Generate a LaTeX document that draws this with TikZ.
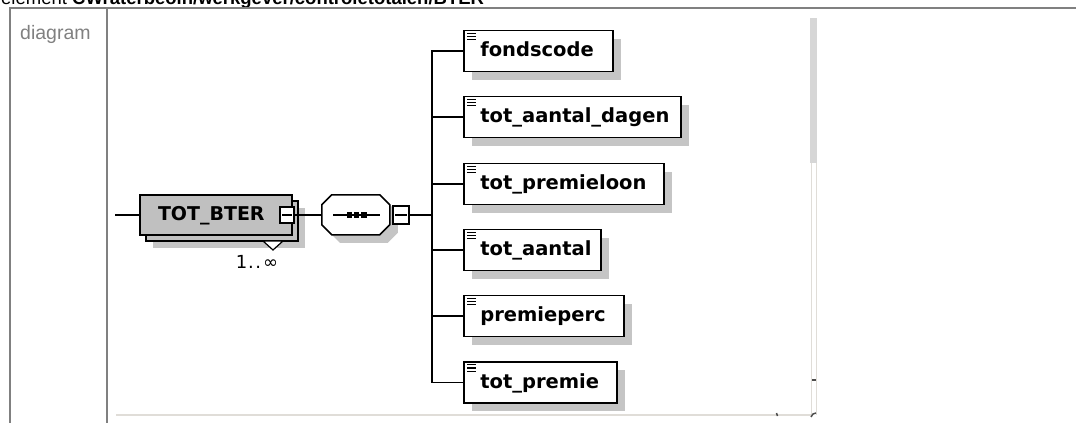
\documentclass[tikz,border=0pt]{standalone}
\usepackage{fontspec}
\setmainfont{Liberation Sans}
\newfontfamily\dejavu{DejaVu Sans}
\usetikzlibrary{shadows}
\definecolor{tblgray}{RGB}{128,128,128}
\definecolor{shad}{RGB}{197,197,197}
\definecolor{tbfill}{RGB}{192,192,192}
\definecolor{paleline}{RGB}{224,221,216}
\definecolor{stripgray}{RGB}{214,214,214}
\newcommand{\elbox}[2]{\makebox[#1][l]{#2}}
\newcommand{\octpath}[2]{([shift={(#1+10,#2)}]oct.north west) -- ([shift={(#1+58,#2)}]oct.north west) -- ([shift={(#1+68,#2+10)}]oct.north west) -- ([shift={(#1+68,#2+30)}]oct.north west) -- ([shift={(#1+58,#2+40)}]oct.north west) -- ([shift={(#1+10,#2+40)}]oct.north west) -- ([shift={(#1,#2+30)}]oct.north west) -- ([shift={(#1,#2+10)}]oct.north west) -- cycle}
\begin{document}
\begin{tikzpicture}[x=1pt,y=-1pt,
  tblline/.style={draw=tblgray,line width=2pt},
  conn/.style={draw=black,line width=1.6pt},
  elem/.style={draw=black,line width=1.6pt,fill=white,anchor=west,rectangle,
    minimum height=41pt,inner xsep=16.5pt,inner ysep=0pt,text height=15.4pt,text depth=4pt,
    font=\dejavu\bfseries\fontsize{19.5}{22}\selectfont,
    drop shadow={shadow xshift=8pt,shadow yshift=-8pt,fill=shad,opacity=1}},
  tbbox/.style={draw=black,line width=1.6pt,fill=tbfill,rectangle,
    minimum width=152pt,minimum height=40pt,inner xsep=18pt,inner ysep=0pt,
    text height=14pt,text depth=4pt,font=\dejavu\bfseries\fontsize{19}{22}\selectfont},
  minusbox/.style={draw=black,line width=1.3pt,fill=white,rectangle,inner sep=0pt},
  icon/.style={line width=1.3pt,black}]

\useasboundingbox (0,0) rectangle (1076,423);

% title line, cut by the top edge
\begin{scope}
  \clip (0,0) rectangle (1076,423);
  \node[anchor=base west,inner sep=0pt,font=\fontsize{18.5}{21}\selectfont] (title) at (1,4.5)
    {element \textbf{CWraterbeoln/werkgever/controletotalen/BTER}};
\end{scope}

% table frame
\draw[tblline] (9,8) -- (1076,8);
\draw[tblline] (10,8) -- (10,423);
\draw[tblline] (107,8) -- (107,423);
\node[anchor=base west,inner sep=0pt,text=tblgray,font=\fontsize{19.5}{22}\selectfont] (lbl) at (20,39.5) {diagram};

% panel edges
\fill[stripgray] (810,18) rectangle (817,163);
\draw[paleline,line width=0.9pt] (811,163) -- (811,415) (816,163) -- (816,415);
\draw[paleline,line width=2pt] (116,415) -- (812,415);
\draw[black!70,line width=1.5pt] (812,380) -- (816,380);
\draw[black!70,line width=1.5pt] (776.5,413) -- (777.5,416);
\draw[black!70,line width=1.5pt] (811,417) -- (813,414) -- (816,413);

% TOT_BTER (repeated element)
\node[tbbox,drop shadow={shadow xshift=7pt,shadow yshift=-7pt,fill=shad,opacity=1}] (tbback) at (222,221) {};
\node[tbbox] (tb) at (216,215) {\elbox{116pt}{TOT\_BTER}};
\filldraw[line width=1.2pt,fill=white,draw=black] (263,241) -- (273,250) -- (283,241) -- cycle;
\node[anchor=base,inner sep=0pt,font=\dejavu\fontsize{18}{20}\selectfont] (occ) at (257,268) {1\kern1pt.\kern1.5pt.\kern2pt∞};
\node[minusbox,minimum width=14pt,minimum height=16pt] (m1) at (287,215) {};
\draw[line width=1.2pt] ([xshift=3pt]m1.west) -- ([xshift=-3pt]m1.east);
\coordinate (lead) at (115,215);
\draw[conn] (lead) -- (tb.west);

% sequence compositor
\node[inner sep=0pt,minimum width=68pt,minimum height=40pt] (oct) at (356,215) {};
\fill[shad] \octpath{8}{8};
\draw[line width=1.6pt,fill=white] \octpath{0}{0};
\draw[conn] ([xshift=-23pt]oct.center) -- ([xshift=24pt]oct.center);
\fill ([shift={(-9.5,-2.8)}]oct.center) rectangle ([shift={(-4,2.8)}]oct.center);
\fill ([shift={(-2.2,-2.8)}]oct.center) rectangle ([shift={(3.3,2.8)}]oct.center);
\fill ([shift={(5.2,-2.8)}]oct.center) rectangle ([shift={(10.7,2.8)}]oct.center);
\node[minusbox,minimum width=16pt,minimum height=18pt] (m2) at (401,215) {};
\draw[line width=1.2pt] ([xshift=3pt]m2.west) -- ([xshift=-3pt]m2.east);
\draw[conn] (m1.east) -- (oct.west);
\coordinate (trunk) at (432,215);
\draw[conn] (m2.east) -- (trunk);

% child elements
\node[elem] (e1) at (463,51) {\elbox{116pt}{fondscode}};
\node[elem] (e2) at (463,117) {\elbox{184pt}{tot\_aantal\_dagen}};
\node[elem] (e3) at (463,184) {\elbox{167pt}{tot\_premieloon}};
\node[elem] (e4) at (463,250) {\elbox{104pt}{tot\_aantal}};
\node[elem] (e5) at (463,316) {\elbox{127pt}{premieperc}};
\node[elem] (e6) at (463,382.5) {\elbox{120pt}{tot\_premie}};

\draw[conn] (e1.west) -| (trunk |- e6.west) -- (e6.west);
\foreach \e in {e2,e3,e4,e5}{
  \draw[conn] (trunk |- \e.west) -- (\e.west);
}
\foreach \e in {e1,e2,e3,e4,e5,e6}{
  \draw[icon] ([shift={(4,3.5)}]\e.north west) -- ++(8.5,0);
  \draw[icon] ([shift={(4,6.8)}]\e.north west) -- ++(8.5,0);
  \draw[icon] ([shift={(4,10.1)}]\e.north west) -- ++(8.5,0);
}
\end{tikzpicture}
\end{document}
